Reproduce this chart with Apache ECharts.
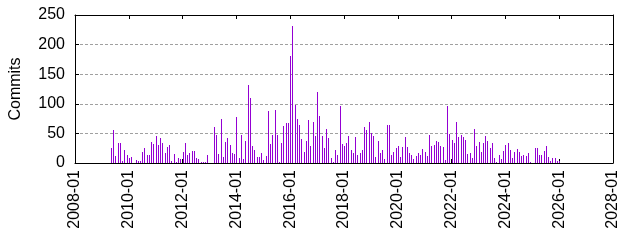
<!DOCTYPE html>
<html>
<head>
<meta charset="utf-8">
<script src="https://cdn.jsdelivr.net/npm/echarts@6/dist/echarts.min.js"></script>
<style>
html,body{margin:0;padding:0;background:#fff;}
#chart{width:640px;height:240px;}
</style>
</head>
<body>
<div id="chart"></div>
<script>
// Monthly commit counts, first month 2009-05
const firstMonth = '2009-05';
const commits = [
  25,55,12,33,33,3,22,13,8,10,0,5,3,3,18,25,13,13,35,32,45,30,43,33,17,27,30,3,15,2,8,7,
  18,33,13,17,20,20,8,7,2,2,2,13,0,0,60,47,15,75,10,35,42,30,17,15,77,8,48,7,38,132,110,
  28,22,10,10,17,5,12,88,32,47,90,47,2,33,62,68,67,181,231,98,75,65,40,18,38,73,28,70,45,
  120,80,45,25,57,43,8,2,22,13,97,32,28,33,45,22,17,44,13,17,22,60,55,70,50,45,10,38,17,
  22,7,64,65,13,18,25,28,10,27,44,27,17,13,7,12,17,13,23,18,12,47,28,30,37,35,28,27,5,96,
  49,39,34,69,44,47,44,39,15,17,8,57,28,35,18,33,45,38,25,33,8,2,13,7,20,30,33,22,8,18,23,
  18,12,13,12,17,2,0,25,25,13,13,20,29,10,3,8,8,3,3
];
const axisStart = '2008-01';
const axisEnd = '2028-01';
const yMin = 0, yMax = 250, yStep = 50;

function monthIndex(s){ const [y,m]=s.split('-').map(Number); return (y-2008)*12+(m-1); }
const startIdx = monthIndex(firstMonth);
const data = commits.map((v,i)=>[startIdx+i, v]);

const chart = echarts.init(document.getElementById('chart'), null, {renderer:'canvas'});
const font = '"Liberation Sans", Arial, sans-serif';
const xMin = monthIndex(axisStart), xMax = monthIndex(axisEnd);
const fmtX = v => { const y = 2008 + Math.floor(v/12); return y + '-01'; };
chart.setOption({
  animation:false,
  backgroundColor:'#fff',
  grid:{left:73, right:27, top:15, bottom:77},
  xAxis:[{
    type:'value', min:xMin, max:xMax, interval:24, position:'bottom',
    axisLine:{show:true, onZero:false, lineStyle:{color:'#000', width:1}},
    axisTick:{show:true, inside:true, length:4, lineStyle:{color:'#000'}},
    splitLine:{show:false},
    axisLabel:{rotate:90, margin:7, fontSize:16, color:'#000', fontFamily:font, formatter:fmtX, showMinLabel:true, showMaxLabel:true}
  },{
    type:'value', min:xMin, max:xMax, interval:24, position:'top',
    axisLine:{show:true, onZero:false, lineStyle:{color:'#000'}},
    axisTick:{show:true, inside:true, length:4, lineStyle:{color:'#000'}},
    axisLabel:{show:false}, splitLine:{show:false}
  }],
  yAxis:[{
    type:'value', min:yMin, max:yMax, interval:yStep, position:'left',
    name:'Commits', nameLocation:'middle', nameRotate:90, nameGap:51,
    nameTextStyle:{fontSize:16, color:'#000', fontFamily:font},
    axisLine:{show:true, onZero:false, lineStyle:{color:'#000'}},
    axisTick:{show:true, inside:true, length:4, lineStyle:{color:'#000'}},
    axisLabel:{margin:10, fontSize:16, color:'#000', fontFamily:font},
    splitLine:{show:true, lineStyle:{color:'#a0a0a0', type:[3,2], width:1}}
  },{
    type:'value', min:yMin, max:yMax, interval:yStep, position:'right',
    axisLine:{show:true, onZero:false, lineStyle:{color:'#000'}},
    axisTick:{show:true, inside:true, length:4, lineStyle:{color:'#000'}},
    axisLabel:{show:false}, splitLine:{show:false}
  }],
  series:[{
    type:'custom',
    xAxisIndex:0, yAxisIndex:0,
    data:data,
    encode:{x:0, y:1},
    renderItem:function(params, api){
      const top = api.coord([api.value(0), api.value(1)]);
      const base = api.coord([api.value(0), 0]);
      const x = Math.round(top[0]);
      const yTop = Math.round(top[1]);
      const yBase = Math.round(base[1]);
      return {type:'rect', shape:{x:x, y:yTop, width:1, height:yBase-yTop}, style:{fill:'#9400d3'}};
    }
  }]
});
</script>
</body>
</html>
